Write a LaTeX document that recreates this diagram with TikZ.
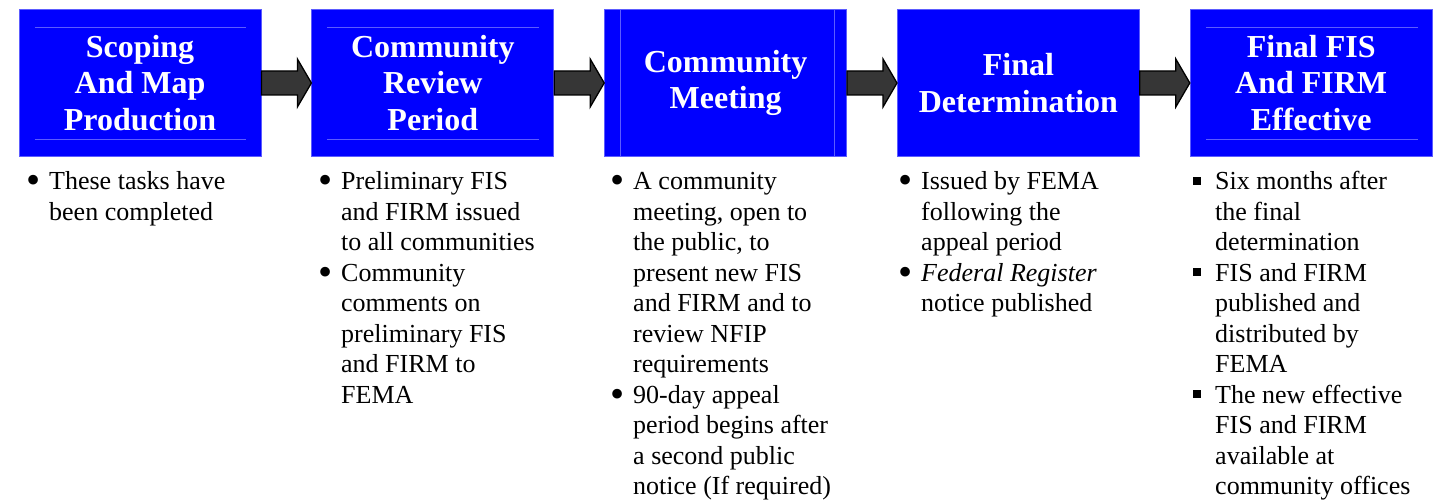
\documentclass[tikz,border=0pt]{standalone}
\usepackage{fontspec}
\setmainfont{Liberation Serif}
\usetikzlibrary{calc,positioning}
\definecolor{stepblue}{HTML}{0000FF}
\definecolor{ruleblue}{HTML}{5C5CFF}
\definecolor{arrowgray}{HTML}{363636}
\tikzset{
    every node/.style={font=\rmfamily},
    phase/.style={rectangle,fill=stepblue,draw=ruleblue,line width=0.8pt,minimum width=242pt,minimum height=147pt,inner sep=0pt,text=white,align=center,font=\fontsize{32}{36.5}\selectfont\bfseries},
    notes/.style={anchor=base west,inner sep=0pt,font=\fontsize{26}{30.5}\selectfont},
    flow/.style={fill=arrowgray,draw=black,line width=1.3pt,line join=miter},
    boxrule/.style={ruleblue,line width=0.6pt}
}
\newcommand{\bl}{\makebox[23pt][l]{\raisebox{-4pt}{\scalebox{1.55}{\textbullet}}}}
\newcommand{\sq}{\makebox[22pt][l]{\raisebox{5pt}{\rule{8pt}{8pt}}}}

\begin{document}
\begin{tikzpicture}[x=1pt,y=-1pt,node distance=50pt]

    \useasboundingbox (0,0) rectangle (1441,502);

    \node[phase] (s1) at (140,83) {Scoping\\And Map\\Production};
    \node[phase,right=of s1] (s2) {Community\\Review\\Period};
    \node[phase,right=of s2] (s3) {Community\\Meeting};
    \node[phase,right=of s3] (s4) {Final\\Determination};
    \node[phase,right=of s4] (s5) {Final FIS\\And FIRM\\Effective};

    \foreach \s in {s1,s2,s5} {
        \draw[boxrule] ($(\s.north west)+(16,18)$) -- ($(\s.north east)+(-15,18)$);
        \draw[boxrule] ($(\s.south west)+(16,-18)$) -- ($(\s.south east)+(-15,-18)$);
    }
    \draw[boxrule,line width=0.4pt] ($(s3.north west)+(16,0)$) -- ($(s3.south west)+(16,0)$);
    \draw[boxrule,line width=0.4pt] ($(s3.north east)+(-13,0)$) -- ($(s3.south east)+(-13,0)$);

    \foreach \a/\b in {s1/s2,s2/s3,s3/s4,s4/s5}
        \draw[flow] ($(\a.east)+(0,-12)$) -- ($(\b.west)+(-14,-12)$) -- ($(\b.west)+(-14,-24)$)
            -- (\b.west) -- ($(\b.west)+(-14,24)$) -- ($(\b.west)+(-14,12)$) -- ($(\a.east)+(0,12)$) -- cycle;

    \node[notes] (n1) at (26,190) {\begin{tabular}[t]{@{}l@{}l@{}}
        \bl & These tasks have\\ & been completed
    \end{tabular}};
    \node[notes] (n2) at (318,190) {\begin{tabular}[t]{@{}l@{}l@{}}
        \bl & Preliminary FIS\\ & and FIRM issued\\ & to all communities\\
        \bl & Community\\ & comments on\\ & preliminary FIS\\ & and FIRM to\\ & FEMA
    \end{tabular}};
    \node[notes] (n3) at (610,190) {\begin{tabular}[t]{@{}l@{}l@{}}
        \bl & A community\\ & meeting, open to\\ & the public, to\\ & present new FIS\\ & and FIRM and to\\ & review NFIP\\ & requirements\\
        \bl & 90-day appeal\\ & period begins after\\ & a second public\\ & notice (If required)
    \end{tabular}};
    \node[notes] (n4) at (898,190) {\begin{tabular}[t]{@{}l@{}l@{}}
        \bl & Issued by FEMA\\ & following the\\ & appeal period\\
        \bl & \textit{Federal Register}\\ & notice published
    \end{tabular}};
    \node[notes] (n5) at (1193,190) {\begin{tabular}[t]{@{}l@{}l@{}}
        \sq & Six months after\\ & the final\\ & determination\\
        \sq & FIS and FIRM\\ & published and\\ & distributed by\\ & FEMA\\
        \sq & The new effective\\ & FIS and FIRM\\ & available at\\ & community offices
    \end{tabular}};

\end{tikzpicture}
\end{document}
